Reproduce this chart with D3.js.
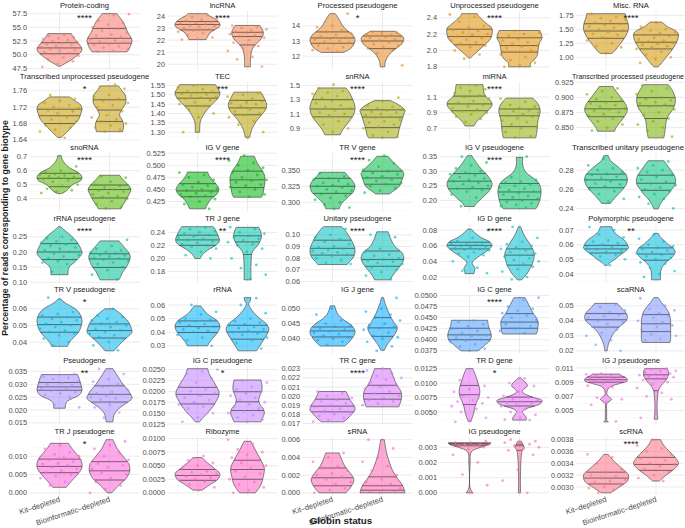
<!DOCTYPE html>
<html><head><meta charset="utf-8">
<script src="https://cdn.jsdelivr.net/npm/d3@7"></script>
<style>body{margin:0;background:#fff} svg{display:block} text{font-family:"Liberation Sans",Arial,sans-serif}</style>
</head><body><svg id="c" width="685" height="528"></svg>
<script>
const panelNames = ["Protein-coding","lncRNA","Processed pseudogene","Unprocessed pseudogene","Misc. RNA",
"Transcribed unprocessed pseudogene","TEC","snRNA","miRNA","Transcribed processed pseudogene",
"snoRNA","IG V gene","TR V gene","IG V pseudogene","Transcribed unitary pseudogene",
"rRNA pseudogene","TR J gene","Unitary pseudogene","IG D gene","Polymorphic pseudogene",
"TR V pseudogene","rRNA","IG J gene","IG C gene","scaRNA",
"Pseudogene","IG C pseudogene","TR C gene","TR D gene","IG J pseudogene",
"TR J pseudogene","Ribozyme","sRNA","IG pseudogene","scRNA"];
const stars = ["****","****","*","****","****","*","***","****","****","","****","****","****","****","","****","**","****","****","**","*","","","****","","**","*","****","*","","*","","","","****"];
const groupLabels = ["Kit\u2013depleted","Bioinformatic\u2013depleted"];
const xTitle = "Globin status";
const yTitle = "Percentage of reads corresponding to gene biotype";
const tickLabels = [
["47.5","50.0","52.5","55.0","57.5"],["20","21","22","23","24"],["12","13","14","15"],["1.8","2.0","2.2","2.4"],["1.00","1.25","1.50","1.75"],
["1.64","1.68","1.72","1.76"],["1.30","1.35","1.40","1.45","1.50","1.55"],["0.9","1.1","1.3","1.5"],["0.7","0.9","1.1"],["0.850","0.875","0.900","0.925"],
["0.4","0.5","0.6","0.7"],["0.425","0.450","0.475","0.500","0.525"],["0.300","0.325","0.350"],["0.20","0.25","0.30","0.35"],["0.24","0.26","0.28"],
["0.10","0.15","0.20","0.25"],["0.18","0.20","0.22","0.24"],["0.06","0.07","0.08","0.09","0.10"],["0.02","0.04","0.06","0.08"],["0.04","0.05","0.06","0.07"],
["0.04","0.05","0.06"],["0.03","0.04","0.05","0.06"],["0.040","0.045","0.050"],["0.0375","0.0400","0.0425","0.0450","0.0475","0.0500"],["0.02","0.03","0.04","0.05"],
["0.015","0.020","0.025","0.030","0.035"],["0.0125","0.0150","0.0175","0.0200","0.0225","0.0250"],["0.017","0.018","0.019","0.020","0.021","0.022","0.023"],["0.0050","0.0075","0.0100","0.0125"],["0.003","0.005","0.007","0.009","0.011"],
["0.000","0.005","0.010"],["0.0000","0.0025","0.0050","0.0075","0.0100"],["0.000","0.002","0.004","0.006"],["0.000","0.001","0.002","0.003","0.004"],["0.0030","0.0032","0.0034","0.0036","0.0038"]];
// violin outlines: [value, relative half-width]
const kitShape = [
[[47.92,0.05],[48.3,0.2],[49,0.5],[50,0.82],[50.5,0.95],[51,1],[51.5,0.95],[52.5,0.75],[53.3,0.6],[53.86,0.52]],
[[22.04,0.38],[22.3,0.45],[22.6,0.55],[22.9,0.8],[23.2,1],[23.5,0.95],[23.8,0.75],[24.0,0.55],[24.2,0.42]],
[[12.25,0.5],[12.5,0.8],[12.8,0.95],[13.1,1],[13.4,0.9],[13.7,0.65],[14.0,0.45],[14.4,0.3],[14.8,0.12]],
[[1.91,0.05],[1.95,0.2],[2.0,0.4],[2.05,0.6],[2.1,0.8],[2.15,0.95],[2.2,1],[2.27,1],[2.32,0.8],[2.38,0.55],[2.42,0.4],[2.45,0.35]],
[[1.07,0.25],[1.1,0.35],[1.2,0.55],[1.3,0.75],[1.4,0.9],[1.5,1],[1.6,0.98],[1.7,0.9],[1.78,0.85]],
[[1.646,0.08],[1.66,0.35],[1.675,0.6],[1.69,0.85],[1.705,0.95],[1.715,1],[1.725,0.95],[1.735,0.7],[1.745,0.45]],
[[1.30,0.1],[1.33,0.1],[1.36,0.13],[1.39,0.25],[1.42,0.42],[1.45,0.65],[1.48,0.9],[1.51,1],[1.53,0.92],[1.554,0.8]],
[[0.81,0.35],[0.85,0.4],[0.9,0.5],[1.0,0.75],[1.1,0.95],[1.2,1],[1.3,0.9],[1.4,0.75],[1.464,0.6]],
[[0.73,0.2],[0.78,0.3],[0.85,0.55],[0.92,0.8],[1.0,1],[1.05,0.95],[1.1,0.75],[1.15,0.65],[1.2,0.62],[1.26,0.6]],
[[0.844,0.38],[0.85,0.45],[0.86,0.65],[0.87,0.85],[0.88,0.95],[0.89,0.85],[0.90,0.65],[0.91,0.45],[0.918,0.3]],
[[0.436,0.1],[0.45,0.25],[0.47,0.4],[0.49,0.5],[0.51,0.7],[0.53,0.95],[0.55,1],[0.57,0.95],[0.59,0.8],[0.62,0.45],[0.65,0.25],[0.68,0.12],[0.707,0.08]],
[[0.41,0.35],[0.42,0.45],[0.43,0.6],[0.44,0.85],[0.45,0.95],[0.46,0.85],[0.47,0.65],[0.48,0.5],[0.486,0.45]],
[[0.29,0.3],[0.295,0.35],[0.3,0.45],[0.305,0.6],[0.31,0.75],[0.315,0.9],[0.32,0.97],[0.325,1],[0.33,0.95],[0.335,0.85],[0.34,0.7],[0.3464,0.55]],
[[0.179,0.22],[0.19,0.3],[0.2,0.45],[0.215,0.65],[0.23,0.85],[0.245,0.97],[0.26,1],[0.275,0.9],[0.29,0.75],[0.31,0.5],[0.33,0.3],[0.3535,0.1]],
[[0.2453,0.2],[0.25,0.35],[0.255,0.55],[0.26,0.75],[0.265,0.9],[0.27,0.95],[0.275,0.9],[0.28,0.7],[0.285,0.45],[0.29,0.2],[0.2951,0.1]],
[[0.125,0.38],[0.135,0.38],[0.145,0.4],[0.155,0.48],[0.165,0.65],[0.18,0.85],[0.195,1],[0.21,0.95],[0.225,0.85],[0.24,0.7],[0.255,0.5],[0.27,0.25],[0.2836,0.05]],
[[0.1998,0.12],[0.205,0.2],[0.21,0.35],[0.215,0.55],[0.22,0.8],[0.225,0.95],[0.23,0.97],[0.235,0.92],[0.24,0.85],[0.245,0.78],[0.2489,0.7]],
[[0.0745,0.65],[0.077,0.75],[0.08,0.9],[0.085,1],[0.09,0.97],[0.095,0.85],[0.1,0.7],[0.104,0.55],[0.107,0.4]],
[[0.0244,0.2],[0.028,0.22],[0.031,0.25],[0.034,0.2],[0.037,0.12],[0.04,0.15],[0.045,0.35],[0.05,0.6],[0.055,0.85],[0.06,1],[0.065,0.9],[0.07,0.55],[0.075,0.3],[0.0813,0.08]],
[[0.0459,0.05],[0.048,0.2],[0.05,0.4],[0.052,0.55],[0.054,0.72],[0.056,0.9],[0.058,1],[0.06,0.95],[0.062,0.88],[0.064,0.75],[0.066,0.55],[0.068,0.4],[0.07,0.3],[0.0723,0.25]],
[[0.0374,0.35],[0.04,0.45],[0.043,0.65],[0.046,0.85],[0.049,0.95],[0.052,1],[0.055,0.97],[0.058,0.85],[0.06,0.7],[0.062,0.45],[0.064,0.2],[0.066,0.05]],
[[0.03,0.45],[0.033,0.55],[0.036,0.7],[0.04,0.9],[0.044,1],[0.048,0.9],[0.051,0.65],[0.054,0.4],[0.057,0.25],[0.0593,0.15]],
[[0.0376,0.55],[0.039,0.75],[0.0405,0.9],[0.042,1],[0.0435,0.95],[0.045,0.75],[0.0465,0.45],[0.048,0.25],[0.0495,0.15],[0.0509,0.1]],
[[0.0375,0.38],[0.038,0.5],[0.0385,0.62],[0.039,0.72],[0.0395,0.85],[0.04,0.93],[0.041,0.97],[0.042,0.92],[0.043,0.85],[0.0444,0.8]],
[[0.02,0.05],[0.024,0.1],[0.028,0.2],[0.032,0.35],[0.036,0.6],[0.04,0.9],[0.043,0.95],[0.046,0.85],[0.049,0.65],[0.0516,0.5]],
[[0.0207,0.25],[0.022,0.27],[0.023,0.3],[0.024,0.45],[0.025,0.7],[0.026,0.9],[0.027,0.97],[0.028,1],[0.03,0.95],[0.032,0.88],[0.0338,0.8]],
[[0.013,0.1],[0.014,0.25],[0.015,0.45],[0.016,0.6],[0.017,0.75],[0.018,0.85],[0.019,0.95],[0.02,0.95],[0.021,0.85],[0.022,0.75],[0.023,0.62],[0.024,0.52],[0.0252,0.45]],
[[0.01718,0.5],[0.0175,0.65],[0.018,0.85],[0.0185,1],[0.019,0.95],[0.0195,0.8],[0.02,0.7],[0.0205,0.6]],
[[0.00335,0.05],[0.004,0.12],[0.005,0.2],[0.006,0.25],[0.007,0.35],[0.008,0.45],[0.009,0.45],[0.01,0.38],[0.011,0.3],[0.012,0.2],[0.0125,0.15]],
[[0.00343,0.1],[0.0036,0.04],[0.004,0.03],[0.005,0.03],[0.006,0.04],[0.0063,0.15],[0.0066,0.25],[0.0069,0.15],[0.0072,0.05],[0.0076,0.04],[0.008,0.08],[0.0084,0.2],[0.0088,0.6],[0.0092,0.95],[0.0096,0.9],[0.0099,0.7],[0.01014,0.6]],
[[0.0015,0.3],[0.003,0.5],[0.005,0.8],[0.007,1],[0.009,0.95],[0.011,0.7],[0.0125,0.5],[0.0135,0.4]],
[[0.0005,0.2],[0.0015,0.55],[0.0025,0.9],[0.0035,1],[0.0045,0.75],[0.0055,0.45],[0.0065,0.2]],
[[0.0,0.6],[0.0008,0.85],[0.0015,0.95],[0.0022,0.8],[0.003,0.55],[0.0038,0.4],[0.0045,0.3]],
[[0.0,0.15],[0.0003,0.03],[0.002,0.03],[0.0027,0.08],[0.003,0.5],[0.0032,0.9],[0.0033,0.95]],
[[0.0029,0.2],[0.003,0.6],[0.0031,0.95],[0.0032,1],[0.0033,0.75],[0.0034,0.45],[0.0035,0.2],[0.00355,0.1]]];
const bioShape = [
[[50.53,0.78],[51,0.86],[52,0.97],[52.6,1],[53.2,0.95],[54,0.82],[55,0.72],[56,0.6],[57,0.42],[57.5,0.33]],
[[19.78,0.13],[20.3,0.13],[20.8,0.15],[21.2,0.2],[21.5,0.3],[21.8,0.45],[22.1,0.6],[22.5,0.7],[22.8,0.68],[23.0,0.62],[23.22,0.55]],
[[11.3,0.1],[11.6,0.12],[11.9,0.2],[12.2,0.35],[12.5,0.6],[12.8,0.85],[13.1,0.95],[13.3,0.9],[13.5,0.7],[13.64,0.55]],
[[1.8,0.48],[1.85,0.5],[1.9,0.7],[1.95,0.8],[2.0,0.82],[2.05,0.85],[2.1,0.9],[2.15,1],[2.2,0.97],[2.244,0.9]],
[[0.83,0.1],[0.9,0.25],[1.0,0.45],[1.1,0.65],[1.2,0.82],[1.3,0.95],[1.4,1],[1.45,0.95],[1.5,0.75],[1.55,0.5],[1.6,0.35],[1.63,0.25]],
[[1.66,0.58],[1.67,0.62],[1.68,0.62],[1.69,0.55],[1.70,0.45],[1.71,0.5],[1.72,0.62],[1.73,0.72],[1.74,0.73],[1.75,0.7],[1.76,0.55],[1.772,0.4]],
[[1.273,0.1],[1.30,0.15],[1.33,0.25],[1.36,0.4],[1.39,0.6],[1.42,0.8],[1.45,0.85],[1.48,0.75],[1.51,0.62],[1.514,0.6]],
[[0.767,0.62],[0.8,0.68],[0.9,0.75],[1.0,0.85],[1.1,0.95],[1.15,1],[1.2,0.85],[1.25,0.6],[1.287,0.35]],
[[0.578,0.72],[0.62,0.75],[0.68,0.78],[0.74,0.8],[0.8,0.82],[0.86,0.88],[0.92,0.92],[0.98,0.88],[1.04,0.75],[1.087,0.6]],
[[0.833,0.35],[0.84,0.38],[0.85,0.42],[0.86,0.45],[0.87,0.55],[0.88,0.75],[0.89,0.85],[0.90,0.85],[0.91,0.75],[0.921,0.55]],
[[0.327,0.5],[0.35,0.58],[0.38,0.7],[0.41,0.8],[0.44,0.9],[0.465,0.95],[0.49,0.88],[0.52,0.7],[0.545,0.55],[0.567,0.45]],
[[0.434,0.62],[0.44,0.68],[0.45,0.72],[0.46,0.76],[0.47,0.78],[0.48,0.75],[0.49,0.65],[0.50,0.5],[0.51,0.38],[0.519,0.3]],
[[0.313,0.3],[0.318,0.5],[0.323,0.7],[0.328,0.8],[0.333,0.85],[0.338,0.9],[0.343,0.95],[0.348,0.9],[0.353,0.75],[0.358,0.6],[0.363,0.45],[0.367,0.35],[0.371,0.25]],
[[0.171,0.72],[0.18,0.8],[0.2,0.9],[0.22,0.95],[0.24,0.95],[0.26,0.85],[0.28,0.55],[0.295,0.3],[0.31,0.18],[0.33,0.13],[0.3477,0.15]],
[[0.2396,0.1],[0.245,0.2],[0.25,0.35],[0.255,0.55],[0.26,0.7],[0.265,0.85],[0.27,0.87],[0.275,0.8],[0.28,0.65],[0.285,0.5],[0.2898,0.35]],
[[0.108,0.42],[0.12,0.5],[0.135,0.6],[0.15,0.75],[0.165,0.85],[0.18,0.92],[0.195,0.88],[0.21,0.72],[0.225,0.55],[0.2366,0.42]],
[[0.167,0.15],[0.18,0.15],[0.195,0.16],[0.205,0.18],[0.21,0.22],[0.215,0.32],[0.22,0.45],[0.228,0.58],[0.235,0.62],[0.242,0.58],[0.2478,0.5]],
[[0.0614,0.35],[0.065,0.45],[0.07,0.65],[0.075,0.85],[0.08,0.95],[0.085,0.85],[0.09,0.55],[0.095,0.4],[0.1,0.3],[0.1026,0.25]],
[[0.0165,0.1],[0.02,0.2],[0.025,0.35],[0.03,0.45],[0.035,0.55],[0.04,0.6],[0.045,0.65],[0.05,0.65],[0.055,0.6],[0.06,0.5],[0.065,0.4],[0.07,0.28],[0.075,0.18],[0.0844,0.05]],
[[0.036,0.2],[0.04,0.2],[0.044,0.25],[0.048,0.45],[0.052,0.75],[0.055,0.85],[0.058,0.75],[0.06,0.55],[0.063,0.35],[0.065,0.2],[0.0677,0.1]],
[[0.0347,0.2],[0.037,0.35],[0.04,0.55],[0.043,0.8],[0.046,1],[0.049,0.95],[0.052,0.85],[0.055,0.65],[0.058,0.4],[0.06,0.2]],
[[0.0263,0.4],[0.03,0.55],[0.034,0.7],[0.038,0.85],[0.042,0.95],[0.046,0.85],[0.05,0.55],[0.054,0.3],[0.058,0.12],[0.061,0.05],[0.063,0.12],[0.0654,0.15]],
[[0.0362,0.08],[0.038,0.2],[0.0395,0.35],[0.041,0.5],[0.0425,0.62],[0.044,0.65],[0.0455,0.5],[0.047,0.38],[0.0485,0.28],[0.05,0.2],[0.052,0.1],[0.0536,0.05]],
[[0.0413,0.75],[0.042,0.8],[0.043,0.82],[0.044,0.83],[0.045,0.75],[0.046,0.6],[0.047,0.5],[0.048,0.4],[0.049,0.3],[0.0495,0.25]],
[[0.0256,0.62],[0.028,0.65],[0.031,0.65],[0.034,0.65],[0.037,0.65],[0.04,0.65],[0.043,0.62],[0.046,0.55],[0.049,0.42],[0.052,0.25],[0.0554,0.1]],
[[0.0154,0.15],[0.017,0.17],[0.0185,0.22],[0.02,0.35],[0.0215,0.55],[0.023,0.8],[0.0245,1],[0.026,0.95],[0.028,0.8],[0.03,0.6],[0.032,0.45],[0.034,0.3],[0.0361,0.15]],
[[0.013,0.6],[0.014,0.68],[0.015,0.75],[0.016,0.7],[0.017,0.55],[0.018,0.5],[0.019,0.55],[0.02,0.63],[0.021,0.65],[0.022,0.62],[0.0226,0.6]],
[[0.01882,0.72],[0.019,0.75],[0.0195,0.82],[0.02,0.85],[0.0205,0.82],[0.021,0.7],[0.0215,0.58],[0.022,0.5],[0.0225,0.42],[0.023,0.35]],
[[0.0036,0.3],[0.004,0.3],[0.0045,0.22],[0.005,0.12],[0.0055,0.25],[0.006,0.65],[0.0065,0.95],[0.007,1],[0.0075,0.65],[0.008,0.3],[0.0085,0.12],[0.009,0.2],[0.0095,0.35],[0.01,0.3],[0.0105,0.15],[0.0109,0.05]],
[[0.0038,0.08],[0.0045,0.06],[0.005,0.05],[0.006,0.05],[0.007,0.07],[0.0077,0.1],[0.008,0.13],[0.0084,0.2],[0.0088,0.3],[0.0092,0.42],[0.0096,0.5],[0.01,0.55],[0.0105,0.55],[0.0109,0.5]],
[[0.0,0.1],[0.002,0.4],[0.004,0.75],[0.006,0.9],[0.008,0.85],[0.01,0.6],[0.012,0.35],[0.0145,0.15]],
[[0.0,0.35],[0.0015,0.6],[0.003,0.7],[0.0045,0.75],[0.006,0.6],[0.0075,0.4],[0.0095,0.15]],
[[0.0,1],[0.0008,0.9],[0.0015,0.7],[0.0025,0.45],[0.0035,0.3],[0.0045,0.18],[0.006,0.08]],
[[0.0,0.05],[0.0008,0.04],[0.002,0.06],[0.0028,0.12],[0.003,0.2],[0.0032,0.15],[0.0034,0.08]],
[[0.0031,0.15],[0.0032,0.45],[0.0033,0.8],[0.0034,1],[0.0035,0.85],[0.0036,0.6],[0.0037,0.35],[0.0038,0.2]]];
const kitQuant = [[50.2,51.25,52.2],[22.85,23.3,23.55],[12.85,13.2,13.6],[2.07,2.17,2.26],[1.34,1.47,1.6],
[1.68,1.699,1.715],[1.44,1.482,1.511],[1.06,1.17,1.30],[0.926,1.013,1.113],[0.868,0.881,0.893],
[0.485,0.545,0.581],[0.435,0.447,0.462],[0.3138,0.3248,0.337],[0.24,0.266,0.292],[0.2617,0.2698,0.2758],
[0.175,0.2,0.2276],[0.2202,0.2285,0.2358],[0.0826,0.0884,0.0954],[0.056,0.0605,0.0645],[0.0543,0.0571,0.0595],
[0.0459,0.0505,0.055],[0.0398,0.0441,0.0483],[0.0406,0.0426,0.0439],[0.04,0.0411,0.0426],[0.0358,0.0407,0.0448],
[0.0277,0.029,0.0307],[0.0171,0.0193,0.0209],[0.01827,0.01889,0.01966],[0.0063,0.008,0.0096],[0.009,0.00935,0.0097],
[0.0055,0.0072,0.0092],[0.0023,0.0032,0.0043],[0.0008,0.0017,0.0028],[0.0031,0.0032,0.00325],[0.00305,0.00315,0.00325]];
const bioQuant = [[52.1,53.0,54.8],[21.6,22.3,22.65],[12.5,13.0,13.33],[1.98,2.06,2.155],[1.15,1.27,1.40],
[1.685,1.713,1.738],[1.393,1.43,1.47],[0.91,1.056,1.158],[0.722,0.861,0.948],[0.865,0.886,0.8995],
[0.405,0.465,0.497],[0.454,0.47,0.488],[0.328,0.3376,0.348],[0.2023,0.229,0.258],[0.2589,0.2663,0.2747],
[0.149,0.177,0.194],[0.206,0.2254,0.2348],[0.073,0.0788,0.0861],[0.0353,0.048,0.056],[0.0494,0.0536,0.0578],
[0.0424,0.0469,0.0509],[0.0349,0.0402,0.0451],[0.0408,0.0436,0.047],[0.0426,0.044,0.0459],[0.0328,0.038,0.0441],
[0.0231,0.0261,0.0294],[0.0156,0.0176,0.0199],[0.01966,0.02027,0.02118],[0.00604,0.00678,0.00758],[0.0078,0.00947,0.01004],
[0.0035,0.006,0.0085],[0.0025,0.0043,0.006],[0.0003,0.0008,0.0018],[0.0028,0.0031,0.0032],[0.00328,0.00338,0.0035]];
const kitPoints = [
[53.6,53.4,53.2,53.0,52.9,52.7,52.5,52.3,52.1,51.9,51.8,51.6,51.4,51.2,51.0,50.8,50.7,50.5,50.3,50.1,49.8,49.5,49.2,48.8,48.3,47.8],
[24.1,23.9,23.8,23.7,23.6,23.5,23.45,23.4,23.3,23.2,23.15,23.1,23.0,22.9,22.8,22.7,22.6,22.4,22.2,22.1,22.05],
[14.8,14.0,13.9,13.7,13.6,13.5,13.4,13.3,13.2,13.15,13.1,13.0,12.95,12.9,12.8,12.7,12.6,12.5,12.4,12.3],
[2.44,2.41,2.35,2.3,2.28,2.25,2.24,2.22,2.2,2.19,2.17,2.15,2.13,2.12,2.1,2.08,2.06,2.04,2.0,1.95,1.9],
[1.78,1.72,1.7,1.68,1.65,1.62,1.6,1.58,1.55,1.53,1.5,1.48,1.45,1.42,1.4,1.35,1.3,1.25,1.2,1.18,1.07],
[1.75,1.74,1.735,1.73,1.725,1.72,1.718,1.715,1.712,1.71,1.705,1.70,1.695,1.69,1.685,1.68,1.675,1.67,1.665,1.66,1.645],
[1.55,1.54,1.53,1.52,1.515,1.51,1.505,1.50,1.495,1.49,1.485,1.48,1.47,1.46,1.45,1.44,1.42,1.40,1.38,1.30],
[1.51,1.46,1.42,1.40,1.38,1.35,1.32,1.3,1.28,1.25,1.22,1.2,1.18,1.15,1.12,1.1,1.08,1.05,1.0,0.95,0.9,0.85],
[1.25,1.22,1.2,1.18,1.15,1.12,1.1,1.08,1.05,1.03,1.0,0.98,0.96,0.94,0.92,0.9,0.88,0.85,0.82,0.78],
[0.915,0.91,0.905,0.90,0.897,0.894,0.892,0.89,0.887,0.885,0.882,0.88,0.878,0.875,0.872,0.87,0.865,0.86,0.855,0.85,0.845],
[0.63,0.6,0.59,0.58,0.575,0.57,0.565,0.56,0.555,0.55,0.54,0.53,0.52,0.5,0.49,0.47,0.46,0.45,0.44],
[0.485,0.48,0.475,0.47,0.465,0.46,0.458,0.455,0.452,0.45,0.448,0.445,0.442,0.44,0.437,0.435,0.43,0.425,0.42,0.41],
[0.345,0.34,0.337,0.335,0.333,0.33,0.328,0.326,0.325,0.323,0.32,0.318,0.316,0.313,0.31,0.307,0.304,0.3,0.296,0.292,0.29],
[0.35,0.33,0.32,0.31,0.3,0.295,0.29,0.285,0.28,0.275,0.27,0.265,0.26,0.255,0.25,0.245,0.24,0.235,0.23,0.22,0.21,0.18],
[0.292,0.285,0.282,0.28,0.278,0.276,0.275,0.273,0.272,0.27,0.268,0.266,0.265,0.263,0.26,0.258,0.255,0.25,0.247],
[0.25,0.245,0.24,0.235,0.23,0.225,0.22,0.215,0.21,0.205,0.2,0.195,0.19,0.185,0.18,0.175,0.17,0.165,0.16,0.135],
[0.248,0.245,0.242,0.24,0.238,0.236,0.234,0.232,0.23,0.228,0.226,0.224,0.222,0.22,0.218,0.215,0.21,0.205,0.2],
[0.105,0.1,0.098,0.096,0.094,0.092,0.09,0.089,0.088,0.087,0.086,0.085,0.084,0.083,0.082,0.08,0.078,0.076,0.075],
[0.08,0.07,0.066,0.064,0.063,0.062,0.061,0.06,0.059,0.058,0.057,0.056,0.055,0.054,0.052,0.05,0.048,0.046,0.04,0.032,0.028,0.025],
[0.072,0.07,0.067,0.065,0.063,0.062,0.061,0.06,0.059,0.058,0.057,0.056,0.055,0.054,0.053,0.052,0.05,0.046],
[0.0667,0.058,0.057,0.056,0.055,0.054,0.053,0.052,0.051,0.05,0.049,0.048,0.047,0.046,0.045,0.044,0.042,0.04,0.038],
[0.06,0.055,0.053,0.05,0.049,0.048,0.047,0.046,0.045,0.044,0.043,0.042,0.041,0.04,0.038,0.036,0.034,0.03],
[0.05,0.048,0.046,0.045,0.0445,0.044,0.0435,0.043,0.0425,0.042,0.0415,0.041,0.0405,0.04,0.0395,0.039,0.038],
[0.0443,0.044,0.0435,0.043,0.0425,0.042,0.0415,0.041,0.0408,0.0405,0.04,0.0398,0.0395,0.039,0.0385,0.038,0.0375],
[0.051,0.049,0.047,0.046,0.045,0.044,0.043,0.042,0.041,0.04,0.039,0.038,0.036,0.034,0.032,0.03,0.027,0.024,0.02],
[0.034,0.0335,0.033,0.0325,0.032,0.031,0.0305,0.03,0.0295,0.029,0.0285,0.028,0.0275,0.027,0.0265,0.026,0.025,0.022,0.021],
[0.025,0.0245,0.024,0.023,0.022,0.021,0.0205,0.02,0.0195,0.019,0.0185,0.018,0.0175,0.017,0.0165,0.016,0.015,0.014,0.013],
[0.0205,0.0203,0.02,0.0198,0.0196,0.0194,0.0192,0.019,0.0188,0.0186,0.0184,0.0182,0.018,0.0178,0.0176,0.0174,0.0172],
[0.0105,0.0095,0.009,0.0085,0.008,0.0078,0.0075,0.007,0.0068,0.0065,0.0063,0.006,0.0055,0.005,0.004,0.0035,0.0033],
[0.0102,0.0101,0.01,0.0099,0.0098,0.0097,0.0096,0.0095,0.0094,0.0093,0.0092,0.0091,0.009,0.0088,0.0085,0.0083,0.0068,0.0066,0.0062,0.0058,0.0035],
[0.013,0.012,0.011,0.0105,0.01,0.0095,0.009,0.0085,0.008,0.0078,0.0075,0.007,0.0065,0.006,0.0055,0.005,0.0045,0.004,0.003,0.002],
[0.0068,0.006,0.0055,0.005,0.0045,0.004,0.0038,0.0035,0.0033,0.003,0.0028,0.0025,0.0022,0.002,0.0015,0.001,0.0005],
[0.0045,0.004,0.0035,0.003,0.0028,0.0025,0.0022,0.002,0.0018,0.0015,0.0012,0.001,0.0008,0.0005,0.0003,0.0],
[0.0034,0.0033,0.0033,0.0032,0.0032,0.0032,0.0031,0.0031,0.003,0.0029,0.0025,0.002,0.0012,0.0005,0.0],
[0.00355,0.0035,0.0034,0.0033,0.00325,0.0032,0.00318,0.00315,0.00312,0.0031,0.00308,0.00305,0.003,0.00298,0.00295,0.0029]];
const bioPoints = [
[57.4,57.2,56.2,55.8,55.5,55.0,54.7,54.4,54.0,53.7,53.5,53.2,53.0,52.8,52.6,52.4,52.2,52.0,51.8,51.5,51.3,51.0,50.7,50.6],
[23.2,23.1,23.0,22.9,22.8,22.7,22.65,22.6,22.5,22.4,22.3,22.2,22.0,21.8,21.5,21.3,21.1,20.6,20.4,19.8],
[13.6,13.55,13.5,13.45,13.4,13.35,13.3,13.25,13.2,13.1,13.05,13.0,12.9,12.8,12.7,12.6,12.5,12.4,12.2,11.4],
[2.24,2.22,2.2,2.18,2.16,2.14,2.12,2.1,2.08,2.06,2.05,2.03,2.0,1.98,1.95,1.92,1.88,1.85,1.82,1.8],
[1.62,1.55,1.5,1.48,1.45,1.43,1.4,1.38,1.35,1.32,1.3,1.28,1.26,1.24,1.22,1.2,1.18,1.15,1.1,1.05,1.0,0.97,0.9],
[1.775,1.77,1.765,1.75,1.745,1.74,1.735,1.73,1.725,1.72,1.71,1.70,1.695,1.69,1.685,1.68,1.675,1.67,1.665,1.66],
[1.51,1.50,1.49,1.48,1.47,1.465,1.46,1.455,1.45,1.44,1.43,1.42,1.41,1.40,1.39,1.38,1.36,1.34,1.30,1.27],
[1.33,1.28,1.22,1.2,1.18,1.16,1.15,1.13,1.12,1.1,1.08,1.06,1.05,1.02,1.0,0.98,0.95,0.92,0.9,0.85,0.8,0.78,0.77],
[1.08,1.04,1.0,0.98,0.96,0.95,0.93,0.92,0.9,0.88,0.86,0.85,0.83,0.8,0.78,0.75,0.72,0.7,0.65,0.6,0.58],
[0.92,0.915,0.91,0.905,0.90,0.897,0.895,0.892,0.89,0.888,0.885,0.88,0.875,0.87,0.865,0.86,0.855,0.85,0.845,0.835],
[0.56,0.55,0.52,0.5,0.49,0.48,0.47,0.465,0.46,0.45,0.44,0.43,0.42,0.41,0.4,0.38,0.36,0.34,0.33],
[0.52,0.51,0.505,0.5,0.495,0.49,0.485,0.48,0.475,0.47,0.468,0.465,0.46,0.458,0.455,0.45,0.445,0.44,0.435],
[0.372,0.365,0.36,0.355,0.35,0.348,0.345,0.343,0.34,0.338,0.335,0.333,0.33,0.328,0.325,0.322,0.318,0.315],
[0.35,0.28,0.27,0.265,0.26,0.255,0.25,0.245,0.24,0.235,0.23,0.225,0.22,0.215,0.21,0.205,0.2,0.195,0.19,0.185,0.18,0.175],
[0.289,0.285,0.282,0.28,0.278,0.275,0.273,0.27,0.268,0.266,0.264,0.262,0.26,0.258,0.255,0.252,0.25,0.245,0.24],
[0.24,0.22,0.21,0.205,0.2,0.197,0.195,0.19,0.188,0.185,0.18,0.178,0.175,0.17,0.165,0.16,0.15,0.14,0.125,0.11],
[0.248,0.245,0.24,0.238,0.235,0.233,0.23,0.228,0.225,0.222,0.22,0.215,0.21,0.2,0.19,0.185,0.175,0.168],
[0.1,0.098,0.088,0.085,0.083,0.082,0.08,0.079,0.078,0.077,0.076,0.075,0.073,0.072,0.07,0.068,0.065,0.062],
[0.084,0.07,0.065,0.062,0.06,0.058,0.056,0.054,0.052,0.05,0.048,0.046,0.044,0.042,0.04,0.037,0.035,0.033,0.03,0.027,0.02,0.017],
[0.067,0.064,0.062,0.06,0.059,0.058,0.057,0.056,0.055,0.054,0.053,0.052,0.051,0.05,0.048,0.047,0.044,0.042,0.04,0.038],
[0.06,0.056,0.055,0.054,0.053,0.052,0.051,0.05,0.049,0.048,0.047,0.046,0.045,0.044,0.043,0.042,0.04,0.038,0.035],
[0.065,0.06,0.054,0.05,0.048,0.047,0.046,0.045,0.044,0.043,0.042,0.041,0.04,0.039,0.038,0.036,0.034,0.032,0.028],
[0.0535,0.05,0.049,0.048,0.047,0.046,0.045,0.0445,0.044,0.0435,0.043,0.042,0.041,0.0405,0.04,0.039,0.0375,0.036],
[0.0495,0.049,0.0475,0.047,0.0465,0.046,0.0455,0.045,0.0445,0.044,0.0435,0.043,0.0425,0.042,0.0415],
[0.055,0.05,0.048,0.047,0.045,0.044,0.043,0.042,0.04,0.039,0.038,0.037,0.036,0.034,0.033,0.031,0.03,0.028,0.027],
[0.036,0.034,0.032,0.031,0.03,0.029,0.028,0.027,0.0265,0.026,0.0255,0.025,0.0245,0.024,0.023,0.022,0.021,0.019,0.017],
[0.0225,0.022,0.021,0.0205,0.02,0.0195,0.019,0.0185,0.018,0.0175,0.017,0.0165,0.016,0.0155,0.015,0.0145,0.014,0.0135,0.013],
[0.023,0.0228,0.0225,0.0222,0.022,0.0218,0.0215,0.0212,0.021,0.0208,0.0205,0.0203,0.02,0.0198,0.0196,0.0194,0.0192,0.019],
[0.0108,0.01,0.0095,0.0085,0.0078,0.0075,0.0072,0.007,0.0068,0.0066,0.0065,0.0063,0.006,0.0055,0.005,0.0045,0.004,0.0037,0.0036],
[0.0109,0.0108,0.0106,0.0105,0.0104,0.0102,0.0101,0.01,0.0099,0.0098,0.0097,0.0095,0.0093,0.009,0.0087,0.0082,0.0075,0.007,0.0066,0.0045,0.004],
[0.014,0.013,0.012,0.011,0.01,0.009,0.0085,0.008,0.0075,0.007,0.0065,0.006,0.0055,0.005,0.004,0.003,0.002,0.001,0.0],
[0.0098,0.009,0.008,0.0075,0.007,0.0065,0.006,0.0055,0.005,0.0045,0.004,0.0035,0.003,0.0025,0.002,0.0015,0.001,0.0005,0.0],
[0.006,0.005,0.004,0.0035,0.003,0.0025,0.002,0.0015,0.0012,0.001,0.0008,0.0005,0.0003,0.0002,0.0001,0.0],
[0.0035,0.0034,0.0033,0.0033,0.0032,0.0031,0.003,0.0029,0.0028,0.0025,0.0015,0.0008,0.0],
[0.0038,0.0037,0.00365,0.0036,0.00355,0.0035,0.00348,0.00345,0.0034,0.00338,0.00335,0.0033,0.00325,0.0032,0.00315,0.0031]];

// R-style hcl (polar LUV) -> hex, to match ggplot's hue palette
function hclR(h, c, l) {
  const hr = h * Math.PI / 180, U = c * Math.cos(hr), V = c * Math.sin(hr);
  const Xn = 95.047, Yn = 100, Zn = 108.883, den = Xn + 15 * Yn + 3 * Zn;
  const un = 4 * Xn / den, vn = 9 * Yn / den;
  const Y = l > 8 ? Yn * Math.pow((l + 16) / 116, 3) : Yn * l / 903.3;
  const u = U / (13 * l) + un, v = V / (13 * l) + vn;
  const X = Y * 9 * u / (4 * v), Z = Y * (12 - 3 * u - 20 * v) / (4 * v);
  const x = X / 100, y = Y / 100, z = Z / 100;
  const lin = [3.240479 * x - 1.537150 * y - 0.498535 * z, -0.969256 * x + 1.875992 * y + 0.041556 * z, 0.055648 * x - 0.204043 * y + 1.057311 * z];
  const g = lin.map(t => { t = t <= 0.0031308 ? 12.92 * t : 1.055 * Math.pow(t, 1 / 2.4) - 0.055; return Math.round(Math.max(0, Math.min(1, t)) * 255); });
  return d3.rgb(g[0], g[1], g[2]).formatHex();
}
const nP = panelNames.length;
const colors = d3.range(nP).map(i => hclR(15 + 360 * i / nP, 100, 65));

const svg = d3.select("#c");
const W = 110, H = 58.5;
const colLeft = [29.5, 167.5, 302.5, 439.5, 576];
const rowTop = r => 11 + 71 * r;
const gGrid = svg.append("g"), gMarks = svg.append("g"), gText = svg.append("g");

function jitter(k, seed) { const f = ((k + 1) * 0.6180339887 + seed) % 1; return (f - 0.5) * 0.8; }

for (let i = 0; i < nP; i++) {
  const c = i % 5, r = Math.floor(i / 5);
  const L = colLeft[c], T = rowTop(r);
  const groups = [
    {shape: kitShape[i], q: kitQuant[i], pts: kitPoints[i], pos: 1},
    {shape: bioShape[i], q: bioQuant[i], pts: bioPoints[i], pos: 2}];
  const allV = [];
  groups.forEach(g => { g.shape.forEach(d => allV.push(d[0])); g.pts.forEach(v => allV.push(v)); });
  const [lo, hi] = d3.extent(allV), pad = (hi - lo) * 0.05;
  const y = d3.scaleLinear().domain([lo - pad, hi + pad]).range([T + H, T]);
  const x = d3.scaleLinear().domain([0.4, 2.6]).range([L, L + W]);
  const unit = x(1) - x(0);
  const ticks = tickLabels[i].map(s => ({s, v: +s})).filter(t => t.v >= lo - pad && t.v <= hi + pad);
  const step = ticks.length > 1 ? ticks[1].v - ticks[0].v : 0;
  const minors = [];
  if (step) {
    for (let k = -1; k < ticks.length; k++) {
      const m = (k < 0 ? ticks[0].v - step / 2 : ticks[k].v + step / 2);
      if (m >= lo - pad && m <= hi + pad) minors.push(m);
    }
  }
  gGrid.selectAll(null).data(minors).join("line")
    .attr("x1", L).attr("x2", L + W).attr("y1", d => y(d)).attr("y2", d => y(d))
    .attr("stroke", "#f3f3f3").attr("stroke-width", 0.5);
  gGrid.selectAll(null).data(ticks).join("line")
    .attr("x1", L).attr("x2", L + W).attr("y1", d => y(d.v)).attr("y2", d => y(d.v))
    .attr("stroke", "#e6e6e6").attr("stroke-width", 0.8);
  gGrid.selectAll(null).data([1, 2]).join("line")
    .attr("x1", d => x(d)).attr("x2", d => x(d)).attr("y1", T).attr("y2", T + H)
    .attr("stroke", "#e6e6e6").attr("stroke-width", 0.8);
  gText.selectAll(null).data(ticks).join("text")
    .attr("x", L - 2.5).attr("y", d => y(d.v)).attr("dy", "0.35em")
    .attr("text-anchor", "end").attr("font-size", 7.4).attr("fill", "#4d4d4d").text(d => d.s);
  const title = gText.append("text").attr("x", L + W / 2).attr("y", T - 2.8).attr("text-anchor", "middle")
    .attr("font-size", 7.6).attr("fill", "#1a1a1a").text(panelNames[i]);
  let tw = title.node().getComputedTextLength();
  if (L + W / 2 + tw / 2 > 684) {
    const fs = Math.max(6.6, 7.6 * (684 - (L - 4)) / tw);
    title.attr("font-size", fs).attr("y", T - 3.2);
    tw = title.node().getComputedTextLength();
    title.attr("x", 684 - tw / 2);
  }
  const col = colors[i];
  groups.forEach((g, gi) => {
    const cx = x(g.pos), half = 0.45 * unit;
    const area = d3.area().curve(d3.curveCatmullRom.alpha(0.5))
      .y(d => y(d[0])).x0(d => cx - d[1] * half).x1(d => cx + d[1] * half);
    gMarks.append("path").attr("d", area(g.shape))
      .attr("fill", col).attr("fill-opacity", 0.55).attr("stroke", "#444").attr("stroke-width", 0.65);
    const wAt = d3.scaleLinear().domain(g.shape.map(d => d[0])).range(g.shape.map(d => d[1])).clamp(true);
    gMarks.selectAll(null).data(g.q).join("line")
      .attr("x1", d => cx - wAt(d) * half).attr("x2", d => cx + wAt(d) * half)
      .attr("y1", d => y(d)).attr("y2", d => y(d)).attr("stroke", "#333").attr("stroke-width", 0.65);
    gMarks.selectAll(null).data(g.pts).join("circle")
      .attr("cx", (d, k) => x(g.pos + jitter(k, gi * 0.37 + i * 0.13))).attr("cy", d => y(d))
      .attr("r", 1.4).attr("fill", col).attr("fill-opacity", 0.6);
  });
  if (stars[i]) gText.append("text").attr("x", x(1.5)).attr("y", T + 9.5).attr("text-anchor", "middle")
    .attr("font-size", 9.5).attr("fill", "#1a1a1a").text(stars[i]);
}
// bottom axis labels under columns 1, 3, 5
[0, 2, 4].forEach(c => {
  const x = d3.scaleLinear().domain([0.4, 2.6]).range([colLeft[c], colLeft[c] + W]);
  const base = rowTop(6) + H + 2;
  groupLabels.forEach((lab, k) => {
    gText.append("text").attr("transform", `translate(${x(k + 1) + 1},${base + 4}) rotate(-18)`)
      .attr("text-anchor", "end").attr("font-size", 7.6).attr("fill", "#4d4d4d").text(lab);
  });
});
gText.append("text").attr("x", 341).attr("y", 524).attr("text-anchor", "middle")
  .attr("font-size", 9.8).attr("font-weight", "bold").attr("fill", "#1a1a1a").text(xTitle);
gText.append("text").attr("transform", "translate(5,228) rotate(-90)").attr("dy", "0.35em")
  .attr("text-anchor", "middle").attr("font-size", 8.8).attr("font-weight", "bold").attr("fill", "#1a1a1a").text(yTitle);
</script></body></html>
